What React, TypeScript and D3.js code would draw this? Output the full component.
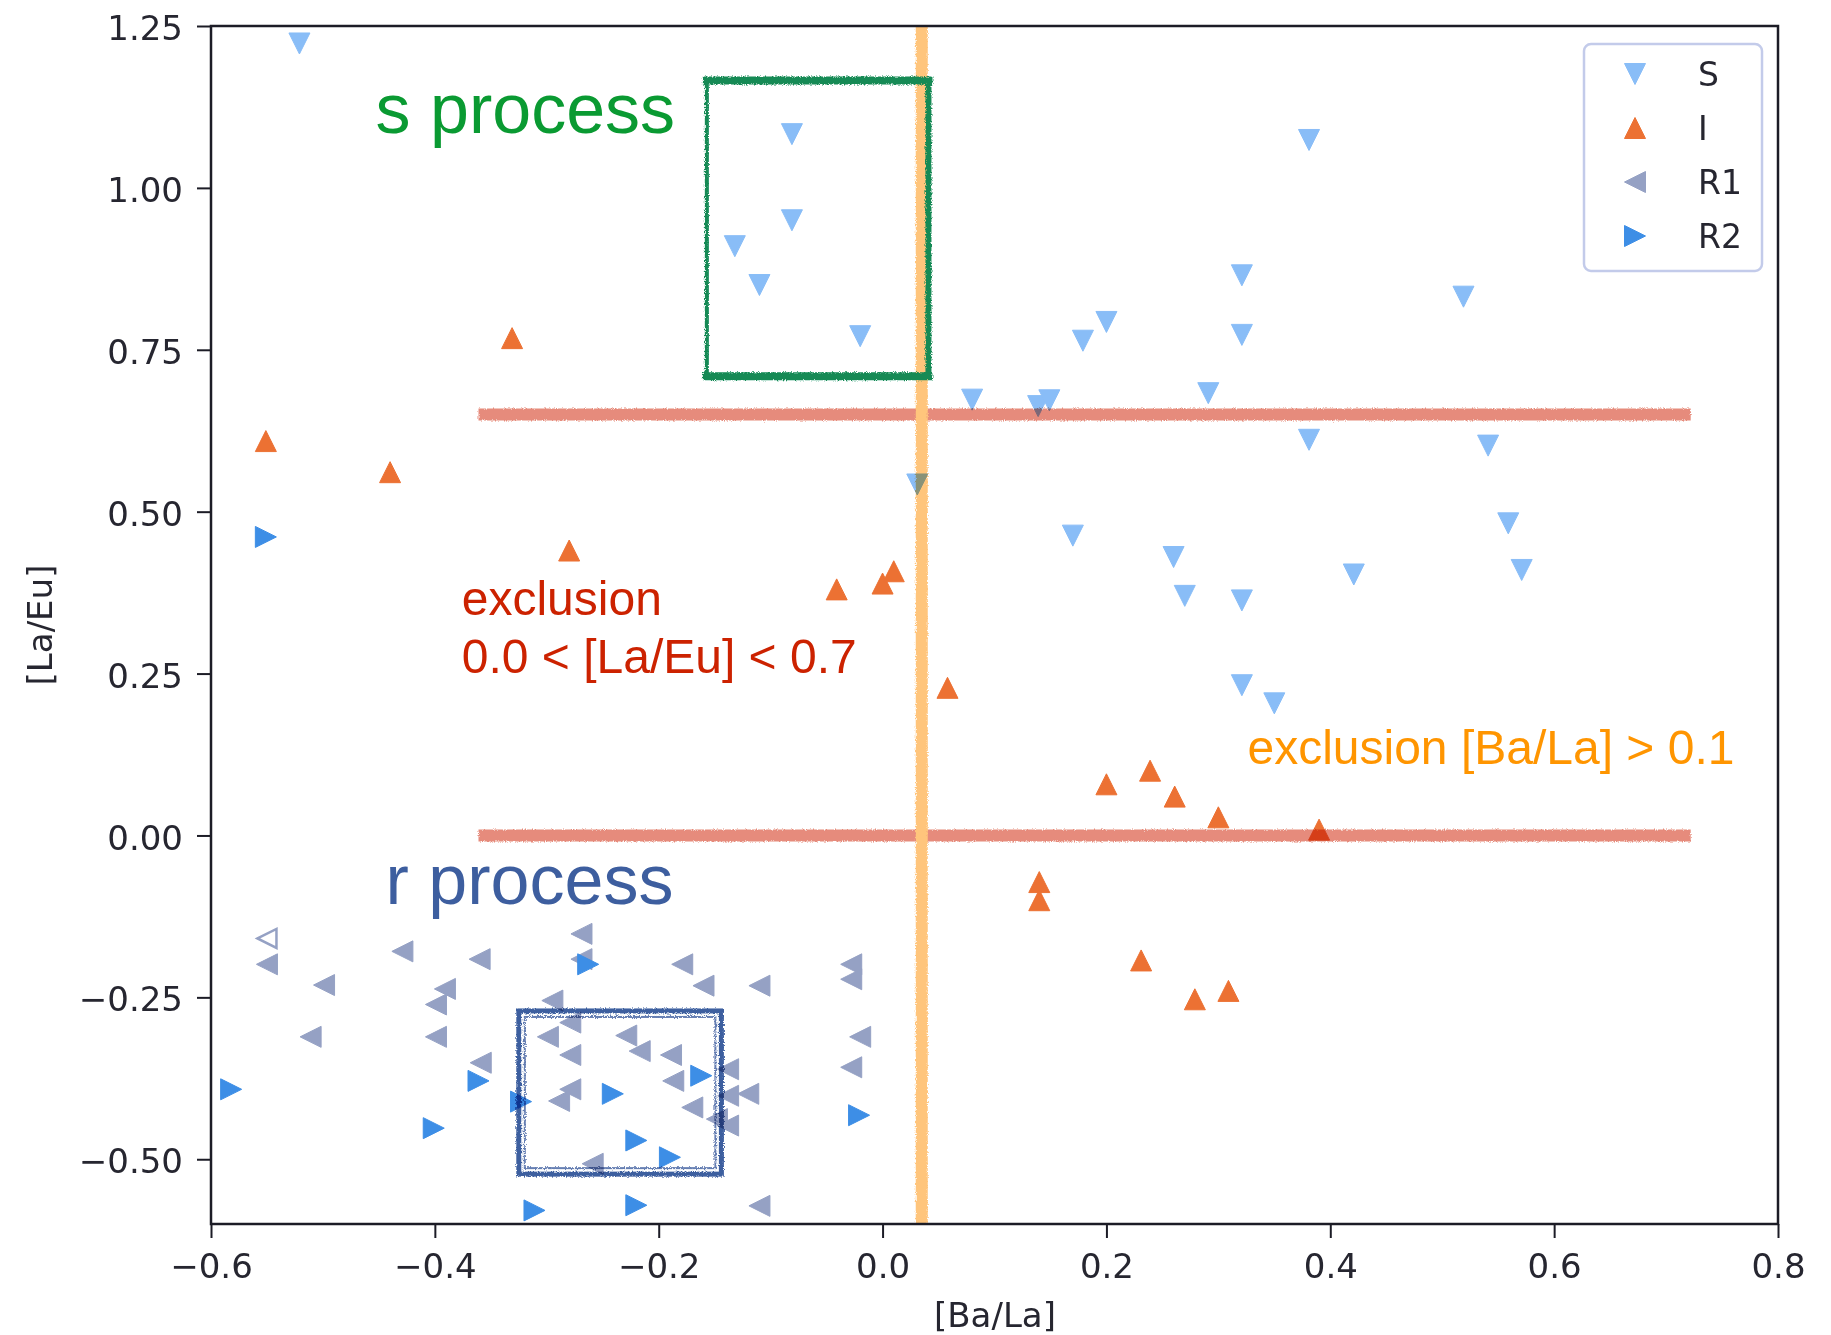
import * as d3 from "d3";
import { useEffect, useRef } from "react";

// S series (downward triangles)
const sX = [-0.521, -0.081, -0.081, -0.132, -0.110, -0.020, 0.381, 0.321, 0.321, 0.519, 0.200, 0.179, 0.291, 0.080,
    0.139, 0.149, 0.381, 0.541, 0.031, 0.170, 0.260, 0.270, 0.321, 0.421, 0.559, 0.571, 0.321, 0.350];
const sY = [1.223, 1.083, 0.950, 0.910, 0.850, 0.771, 1.074, 0.865, 0.773, 0.832, 0.793, 0.764, 0.683, 0.673,
    0.663, 0.672, 0.611, 0.602, 0.542, 0.463, 0.430, 0.370, 0.363, 0.403, 0.482, 0.410, 0.232, 0.204];

// I series (upward triangles)
const iX = [-0.331, -0.551, -0.440, -0.280, -0.041, 0.000, 0.010, 0.058, 0.200, 0.239, 0.261, 0.300, 0.390,
    0.140, 0.140, 0.231, 0.279, 0.309];
const iY = [0.768, 0.609, 0.561, 0.440, 0.380, 0.389, 0.408, 0.228, 0.079, 0.100, 0.060, 0.028, 0.009,
    -0.072, -0.100, -0.193, -0.253, -0.240];

// R1 series (left triangles)
const r1X = [-0.550, -0.429, -0.499, -0.360, -0.269, -0.269, -0.179, -0.160, -0.110, -0.028, -0.028, -0.391,
    -0.399, -0.511, -0.399, -0.295, -0.279, -0.299, -0.279, -0.229, -0.217, -0.189, -0.187, -0.138, -0.120,
    -0.138, -0.170, -0.148, -0.138, -0.359, -0.279, -0.289, -0.020, -0.028, -0.259, -0.110];
const r1Y = [-0.199, -0.179, -0.231, -0.191, -0.152, -0.191, -0.199, -0.232, -0.232, -0.199, -0.222, -0.237,
    -0.261, -0.311, -0.311, -0.255, -0.289, -0.311, -0.339, -0.309, -0.333, -0.339, -0.379, -0.361, -0.399,
    -0.402, -0.420, -0.438, -0.448, -0.351, -0.392, -0.410, -0.311, -0.358, -0.507, -0.572];
// one hollow R1 marker
const r1OpenX = [-0.550];
const r1OpenY = [-0.159];

// R2 series (right triangles)
const r2X = [-0.263, -0.582, -0.361, -0.323, -0.241, -0.162, -0.401, -0.220, -0.190, -0.021, -0.311, -0.220, -0.551];
const r2Y = [-0.199, -0.392, -0.379, -0.411, -0.399, -0.371, -0.452, -0.471, -0.497, -0.432, -0.579, -0.571, 0.461];

const seriesNames = ["S", "I", "R1", "R2"];
const seriesColors = ["#89bdf7", "#ec7133", "#95a1c4", "#3d8ee6"];
const seriesDirs = ["down", "up", "left", "right"];

const xTicks = [-0.6, -0.4, -0.2, 0.0, 0.2, 0.4, 0.6, 0.8];
const yTicks = [-0.5, -0.25, 0.0, 0.25, 0.5, 0.75, 1.0, 1.25];

// hand drawn guides, in data units
const laEuCuts = [0.0, 0.65];
const laEuCutSpan = [-0.361, 0.722];
const baLaCut = 0.035;
const sBox = { x0: -0.157, x1: 0.041, y0: 0.709, y1: 1.166 };
const rBox = { x0: -0.325, x1: -0.144, y0: -0.523, y1: -0.271 };

const W = 1831, H = 1335;

const tri = (cx: number, cy: number, dir: string, h: number) => {
    let pts: number[][];
    if (dir === "up") pts = [[0, -h], [-h, h], [h, h]];
    else if (dir === "down") pts = [[0, h], [-h, -h], [h, -h]];
    else if (dir === "left") pts = [[-h, 0], [h, -h], [h, h]];
    else pts = [[h, 0], [-h, -h], [-h, h]];
    return "M" + pts.map(p => (cx + p[0]) + "," + (cy + p[1])).join("L") + "Z";
};

const renderPlot = (node: SVGSVGElement) => {
    const svg = d3.select(node);
    svg.selectAll("*").remove();

    const x = d3.scaleLinear().domain([-0.6, 0.8]).range([211, 1778]);
    const y = d3.scaleLinear().domain([-0.6, 1.25]).range([1224, 26]);

    svg.append("rect").attr("width", W).attr("height", H).attr("fill", "white");

    const defs = svg.append("defs");
    const f = defs.append("filter").attr("id", "rough")
        .attr("filterUnits", "userSpaceOnUse")
        .attr("x", 0).attr("y", 0).attr("width", W).attr("height", H);
    f.append("feTurbulence").attr("type", "fractalNoise").attr("baseFrequency", 0.9)
        .attr("numOctaves", 2).attr("seed", 3).attr("result", "noise");
    f.append("feDisplacementMap").attr("in", "SourceGraphic").attr("in2", "noise")
        .attr("scale", 4).attr("xChannelSelector", "R").attr("yChannelSelector", "G");

    // axes
    const tickFont = "DejaVu Sans, sans-serif";
    const xAxis = svg.append("g").attr("transform", "translate(0,1224)")
        .call(d3.axisBottom(x).tickValues(xTicks).tickSize(14).tickPadding(16).tickFormat(d3.format(".1f") as any));
    const yAxis = svg.append("g").attr("transform", "translate(211,0)")
        .call(d3.axisLeft(y).tickValues(yTicks).tickSize(14).tickPadding(14).tickFormat(d3.format(".2f") as any));
    [xAxis, yAxis].forEach(g => {
        g.select(".domain").remove();
        g.selectAll("line").attr("stroke", "#1c1c26").attr("stroke-width", 2);
        g.selectAll("text").attr("font-family", tickFont).attr("font-size", 34).attr("fill", "#262630");
    });
    yAxis.selectAll("text").attr("dy", "0.40em");

    svg.append("text").attr("x", 995).attr("y", 1327).attr("text-anchor", "middle")
        .attr("font-family", tickFont).attr("font-size", 34).attr("fill", "#262630").text("[Ba/La]");
    svg.append("text").attr("transform", "translate(52,625) rotate(-90)").attr("text-anchor", "middle")
        .attr("font-family", tickFont).attr("font-size", 34).attr("fill", "#262630").text("[La/Eu]");

    // points
    const series = [
        { xs: sX, ys: sY },
        { xs: iX, ys: iY },
        { xs: r1X, ys: r1Y },
        { xs: r2X, ys: r2Y },
    ];
    const pts = svg.append("g");
    series.forEach((s, k) => {
        pts.append("g").selectAll("path")
            .data(s.xs.map((v, i) => [v, s.ys[i]]))
            .enter()
            .append("path")
            .attr("d", d => tri(x(d[0]), y(d[1]), seriesDirs[k], 10.5))
            .attr("fill", seriesColors[k])
            .attr("stroke", seriesColors[k])
            .attr("stroke-width", 1)
            .attr("stroke-linejoin", "round");
        if (k === 2) {
            pts.append("g").selectAll("path")
                .data(r1OpenX.map((v, i) => [v, r1OpenY[i]]))
                .enter()
                .append("path")
                .attr("d", d => tri(x(d[0]), y(d[1]), "left", 9.5))
                .attr("fill", "none")
                .attr("stroke", seriesColors[2])
                .attr("stroke-width", 2.5);
        }
    });

    // hand drawn guides
    const guides = svg.append("g").style("mix-blend-mode", "multiply").attr("filter", "url(#rough)");
    guides.selectAll("line.cut")
        .data(laEuCuts)
        .enter()
        .append("line")
        .attr("x1", x(laEuCutSpan[0])).attr("x2", x(laEuCutSpan[1]))
        .attr("y1", d => y(d)).attr("y2", d => y(d))
        .attr("stroke", "#e68b7b").attr("stroke-width", 12);

    guides.append("line")
        .attr("x1", x(baLaCut)).attr("x2", x(baLaCut))
        .attr("y1", y(1.25)).attr("y2", y(-0.6))
        .attr("stroke", "#ffc57c").attr("stroke-width", 12);

    const green = "#148a55";
    const sides = [
        { x1: sBox.x0, y1: sBox.y1, x2: sBox.x1, y2: sBox.y1, w: 8 },
        { x1: sBox.x0, y1: sBox.y0, x2: sBox.x1, y2: sBox.y0, w: 8 },
        { x1: sBox.x0, y1: sBox.y0, x2: sBox.x0, y2: sBox.y1, w: 4 },
        { x1: sBox.x1, y1: sBox.y0, x2: sBox.x1, y2: sBox.y1, w: 6 },
    ];
    guides.selectAll("line.sbox")
        .data(sides)
        .enter()
        .append("line")
        .attr("x1", d => x(d.x1)).attr("x2", d => x(d.x2))
        .attr("y1", d => y(d.y1)).attr("y2", d => y(d.y2))
        .attr("stroke", green).attr("stroke-width", d => d.w).attr("stroke-linecap", "square");

    const blue = "#3d5e9f";
    guides.append("rect")
        .attr("x", x(rBox.x0)).attr("y", y(rBox.y1))
        .attr("width", x(rBox.x1) - x(rBox.x0)).attr("height", y(rBox.y0) - y(rBox.y1))
        .attr("fill", "none").attr("stroke", blue).attr("stroke-width", 5);
    guides.append("rect")
        .attr("x", x(rBox.x0) + 6).attr("y", y(rBox.y1) + 6)
        .attr("width", x(rBox.x1) - x(rBox.x0) - 12).attr("height", y(rBox.y0) - y(rBox.y1) - 12)
        .attr("fill", "none").attr("stroke", blue).attr("stroke-width", 2).attr("opacity", 0.8);

    // spines
    svg.append("rect").attr("x", 211).attr("y", 26).attr("width", 1567).attr("height", 1198)
        .attr("fill", "none").attr("stroke", "#1c1c26").attr("stroke-width", 2.5);

    // annotation text
    const annFont = "Liberation Sans, Arial, sans-serif";
    svg.append("text").attr("x", x(-0.453)).attr("y", y(1.0845))
        .attr("font-family", annFont).attr("font-size", 70).attr("fill", "#0a9a32").text("s process");
    svg.append("text").attr("x", x(-0.444)).attr("y", y(-0.1063))
        .attr("font-family", annFont).attr("font-size", 70).attr("fill", blue).text("r process");
    svg.append("text").attr("x", x(-0.376)).attr("y", y(0.341))
        .attr("font-family", annFont).attr("font-size", 48).attr("fill", "#cc2200").text("exclusion");
    svg.append("text").attr("x", x(-0.376)).attr("y", y(0.2516))
        .attr("font-family", annFont).attr("font-size", 48).attr("fill", "#cc2200").text("0.0 < [La/Eu] < 0.7");
    svg.append("text").attr("x", x(0.326)).attr("y", y(0.1097))
        .attr("font-family", annFont).attr("font-size", 48).attr("fill", "#ff9500").text("exclusion [Ba/La] > 0.1");

    // legend
    const legend = svg.append("g");
    legend.append("rect").attr("x", 1584).attr("y", 44).attr("width", 178).attr("height", 227).attr("rx", 7)
        .attr("fill", "white").attr("fill-opacity", 0.85).attr("stroke", "#c3cbea").attr("stroke-width", 2.5);
    const rows = legend.selectAll("g.row")
        .data(seriesNames)
        .enter()
        .append("g")
        .attr("transform", (d, i) => "translate(0," + (74 + i * 54) + ")");
    rows.append("path")
        .attr("d", (d, i) => tri(1635, 0, seriesDirs[i], 10.5))
        .attr("fill", (d, i) => seriesColors[i])
        .attr("stroke", (d, i) => seriesColors[i]).attr("stroke-width", 1);
    rows.append("text").attr("x", 1698).attr("dy", "0.36em")
        .attr("font-family", tickFont).attr("font-size", 33).attr("fill", "#262630")
        .text(d => d);
};

const App = () => {
    const ref = useRef<SVGSVGElement>(null);

    useEffect(() => {
        if (ref.current) renderPlot(ref.current);
    });

    return (
        <svg ref={ref} width={W} height={H} style={{ position: "absolute", left: 0, top: 0 }} />
    );
};

export default App;
